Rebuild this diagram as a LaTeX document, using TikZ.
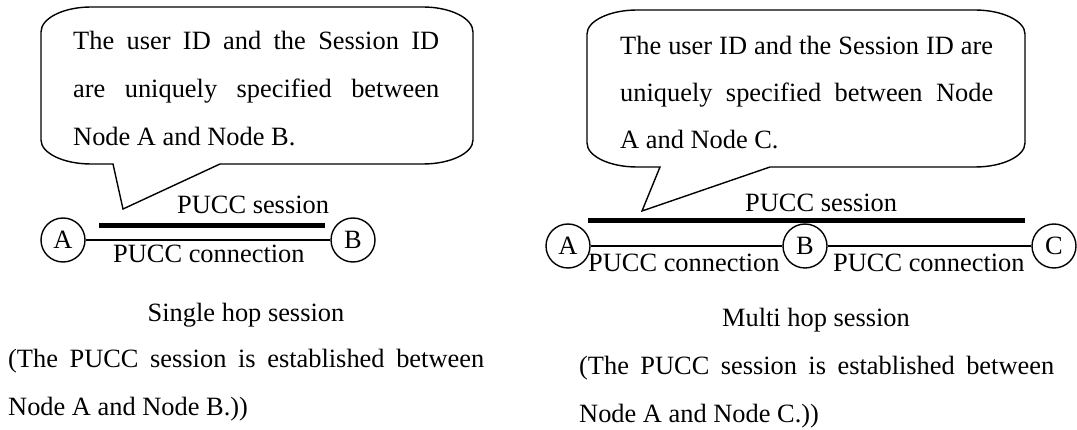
\documentclass[tikz,border=0pt]{standalone}
\usepackage{fontspec}
\setmainfont{Liberation Serif}
\begin{document}
\begin{tikzpicture}[x=1pt,y=-1pt,
  txt/.style={anchor=base west,inner sep=0pt,font=\fontsize{26.4}{48}\selectfont},
  ctxt/.style={anchor=base,inner sep=0pt,font=\fontsize{26.4}{48}\selectfont},
  hostnode/.style={circle,draw,line width=1.4pt,minimum size=44pt,inner sep=0pt,
    font=\fontsize{26.4}{48}\selectfont},
  bubble/.style={draw,line width=1.4pt,line join=miter},
  link/.style={line width=1.4pt},
  session/.style={line width=5pt}]
\useasboundingbox (0,0) rectangle (1077,430);

% ---------- single hop ----------
\draw[bubble] (91,7) -- (423,7) .. controls (450.5,7) and (473,18.2) .. (473,32)
  -- (473,140) .. controls (473,153.2) and (450.5,164) .. (423,164)
  -- (220,164) -- (123,209) -- (113,164) -- (91,164)
  .. controls (63.5,164) and (41,153.2) .. (41,140)
  -- (41,32) .. controls (41,18.2) and (63.5,7) .. (91,7) -- cycle;
\node[txt] (lt1) at (73,50) {\makebox[366pt][s]{The user ID and the Session ID}};
\node[txt] (lt2) at (73,98) {\makebox[366pt][s]{are uniquely specified between}};
\node[txt] (lt3) at (73,146) {Node A and Node B.};

\node[hostnode] (lA) at (63,240) {A};
\node[hostnode] (lB) at (353,240) {B};
\draw[link] (lA) -- (lB);
\coordinate (lsS) at (99,226);
\coordinate (lsE) at (325,226);
\draw[session] (lsS) -- (lsE);
\node[txt] (lsl) at (177,214) {PUCC session};
\node[txt] (lcl) at (113,263) {PUCC connection};

\node[ctxt] (lcap) at (246,322) {Single hop session};
\node[txt] (lp1) at (8,368) {\makebox[476pt][s]{(The PUCC session is established between}};
\node[txt] (lp2) at (8,415) {Node A and Node B.))};

% ---------- multi hop ----------
\draw[bubble] (637,10) -- (975,10) .. controls (1002.5,10) and (1025,21) .. (1025,34)
  -- (1025,143) .. controls (1025,156.2) and (1002.5,167) .. (975,167)
  -- (770,167) -- (642,211) -- (660,167) -- (637,167)
  .. controls (609.5,167) and (587,156.2) .. (587,143)
  -- (587,34) .. controls (587,21) and (609.5,10) .. (637,10) -- cycle;
\node[txt] (rt1) at (620,55) {\makebox[373pt][s]{The user ID and the Session ID are}};
\node[txt] (rt2) at (620,102) {\makebox[373pt][s]{uniquely specified between Node}};
\node[txt] (rt3) at (620,149) {A and Node C.};

\node[hostnode] (rA) at (568,246) {A};
\node[hostnode] (rB) at (805,246) {B};
\node[hostnode] (rC) at (1054,246) {C};
\draw[link] (rA) -- (rB);
\draw[link] (rB) -- (rC);
\coordinate (rsS) at (588,221);
\coordinate (rsE) at (1025,221);
\draw[session] (rsS) -- (rsE);
\node[txt] (rsl) at (745,212) {PUCC session};
\node[txt] (rcl1) at (588,272) {PUCC connection};
\node[txt] (rcl2) at (833,272) {PUCC connection};

\node[ctxt] (rcap) at (816,327) {Multi hop session};
\node[txt] (rp1) at (579,375) {\makebox[475pt][s]{(The PUCC session is established between}};
\node[txt] (rp2) at (579,423) {Node A and Node C.))};
\end{tikzpicture}
\end{document}
